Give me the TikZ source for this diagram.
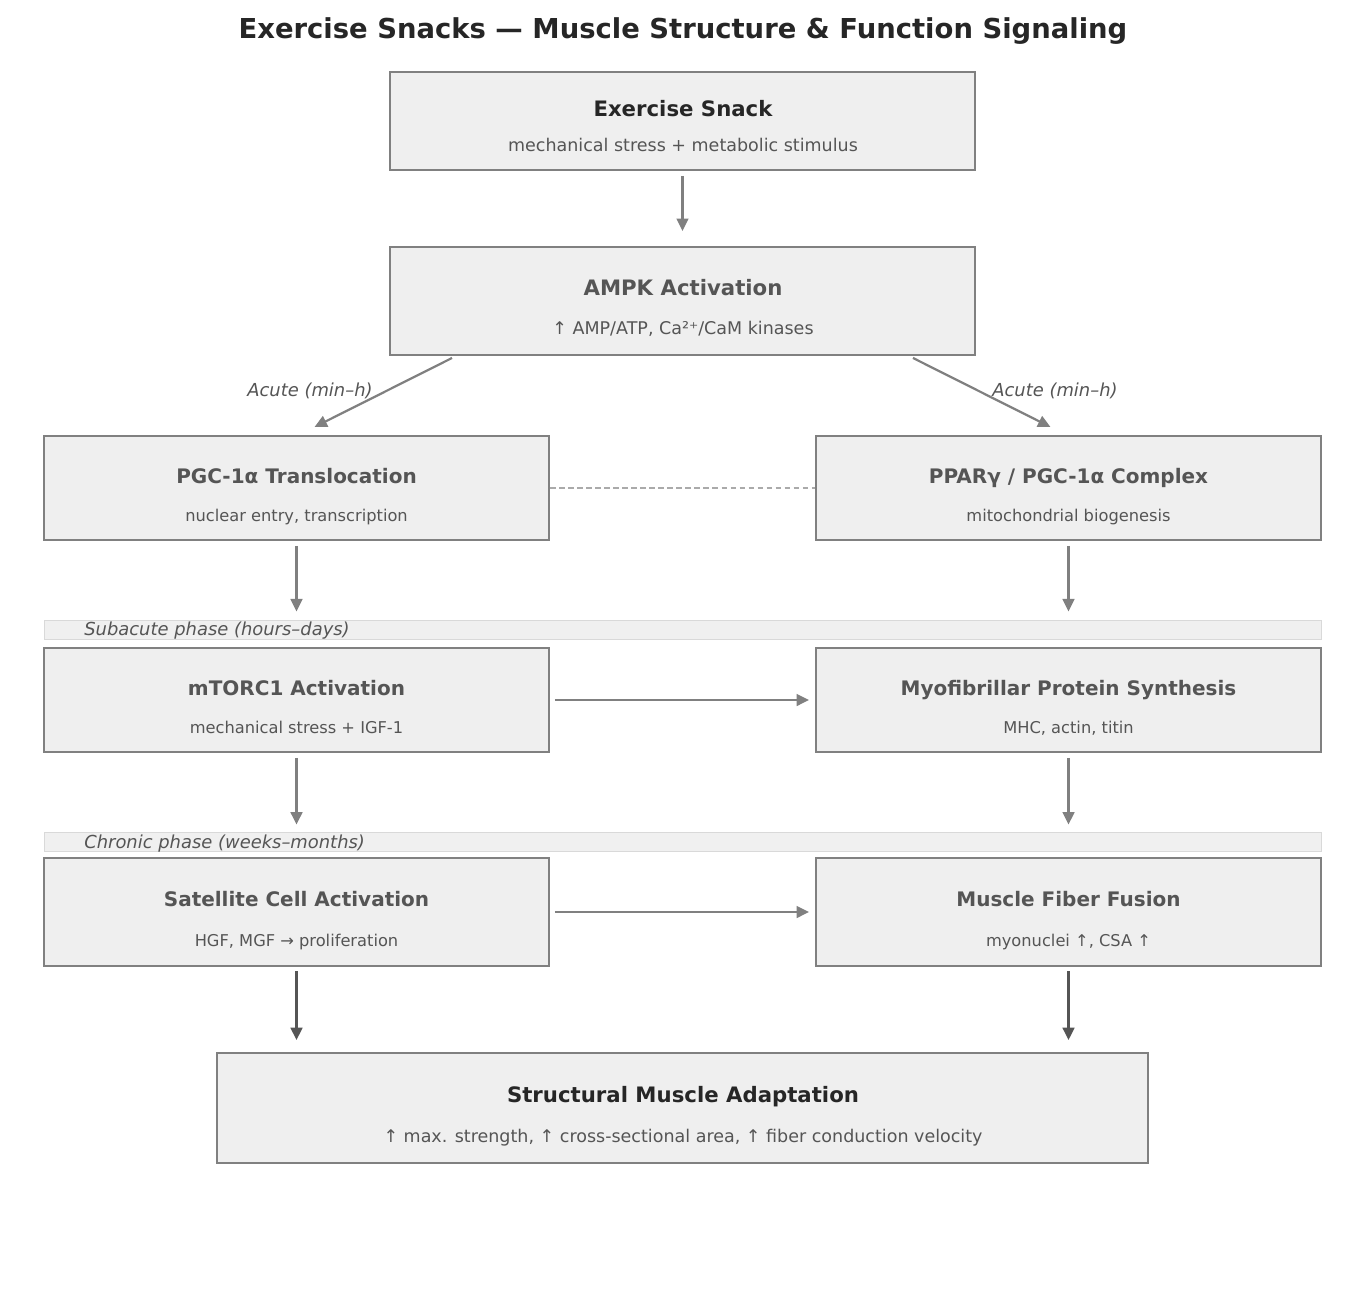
\documentclass[tikz,border=0pt]{standalone}
\usepackage{fontspec}
\setmainfont{DejaVu Sans}
\usetikzlibrary{arrows.meta}

\definecolor{boxfill}{HTML}{EFEFEF}
\definecolor{boxline}{HTML}{808080}
\definecolor{darktext}{HTML}{262626}
\definecolor{midtext}{HTML}{555555}
\definecolor{bandfill}{HTML}{F0F0F0}
\definecolor{bandline}{HTML}{D9D9D9}
\definecolor{dashgray}{HTML}{AAAAAA}
\definecolor{strongline}{HTML}{555555}

\newdimen\pxunit
\pxunit=0.72pt

\tikzset{
  stagebox/.style={draw=boxline,fill=boxfill,line width=1.4pt,inner sep=0},
  phaseband/.style={draw=bandline,fill=bandfill,line width=0.7pt,inner sep=0},
  headtext/.style={text=midtext,font=\bfseries\fontsize{14.4pt}{17pt}\selectfont,inner sep=0,text height=10.7pt,text depth=0pt},
  bighead/.style={text=darktext,font=\bfseries\fontsize{15.3pt}{18pt}\selectfont,inner sep=0,text height=11.3pt,text depth=0pt},
  subtext/.style={text=midtext,font=\fontsize{11.7pt}{14pt}\selectfont,inner sep=0,text height=8.7pt,text depth=0pt},
  bigsub/.style={subtext,font=\fontsize{12.6pt}{15pt}\selectfont,text height=9.3pt},
  phasetext/.style={text=midtext,font=\itshape\fontsize{12.9pt}{15pt}\selectfont,inner sep=0,anchor=west,text height=9.5pt,text depth=0pt},
  flowarrow/.style={draw=boxline,line width=1.6pt,-{Triangle[length=9pt,width=8.5pt]},shorten <=3.6pt},
  strongarrow/.style={flowarrow,draw=strongline},
  linkdash/.style={draw=dashgray,line width=1pt,dash pattern=on 4pt off 2.5pt}
}

\begin{document}
\begin{tikzpicture}[x=0.72pt,y=-0.72pt]
    \pgfmathsetmacro{\topboxw}{585}
    \pgfmathsetmacro{\sideboxw}{505}
    \pgfmathsetmacro{\bandw}{1277}
    \pgfmathsetmacro{\leftx}{296.5}
    \pgfmathsetmacro{\rightx}{1068.5}
    \path[fill=white,use as bounding box] (0,0) rectangle (1366,1312);

    \node[text=darktext,font=\bfseries\fontsize{19.75pt}{24pt}\selectfont] (title) at (683,31) {Exercise Snacks — Muscle Structure \& Function Signaling};

    \node[stagebox,minimum width=\topboxw*\pxunit,minimum height=98*\pxunit] (snack) at (682.5,121) {};
    \node[bighead] (snackhead) at (683,109) {Exercise Snack};
    \node[bigsub] (snacksub) at (683,145) {mechanical stress + metabolic stimulus};

    \node[stagebox,minimum width=\topboxw*\pxunit,minimum height=108*\pxunit] (ampk) at (682.5,301) {};
    \node[bighead,text=midtext] (ampkhead) at (683,288) {AMPK Activation};
    \node[bigsub] (ampksub) at (683,328) {↑ AMP/ATP, Ca²⁺/CaM kinases};

    \node[stagebox,minimum width=\sideboxw*\pxunit,minimum height=104*\pxunit] (pgc) at (\leftx,488) {};
    \node[headtext] (pgchead) at (\leftx,476) {PGC-1α Translocation};
    \node[subtext] (pgcsub) at (\leftx,515) {nuclear entry, transcription};

    \node[stagebox,minimum width=\sideboxw*\pxunit,minimum height=104*\pxunit] (ppar) at (\rightx,488) {};
    \node[headtext] (pparhead) at (\rightx,476) {PPARγ / PGC-1α Complex};
    \node[subtext] (pparsub) at (\rightx,515) {mitochondrial biogenesis};

    \node[phaseband,minimum width=\bandw*\pxunit,minimum height=19*\pxunit] (subacute) at (682.5,629.5) {};
    \node[phasetext] (subacutetext) at (84,629) {Subacute phase (hours–days)};

    \node[stagebox,minimum width=\sideboxw*\pxunit,minimum height=104*\pxunit] (mtorc) at (\leftx,700) {};
    \node[headtext] (mtorchead) at (\leftx,688) {mTORC1 Activation};
    \node[subtext] (mtorcsub) at (\leftx,727) {mechanical stress + IGF-1};

    \node[stagebox,minimum width=\sideboxw*\pxunit,minimum height=104*\pxunit] (myo) at (\rightx,700) {};
    \node[headtext] (myohead) at (\rightx,688) {Myofibrillar Protein Synthesis};
    \node[subtext] (myosub) at (\rightx,727) {MHC, actin, titin};

    \node[phaseband,minimum width=\bandw*\pxunit,minimum height=19*\pxunit] (chronic) at (682.5,841.5) {};
    \node[phasetext] (chronictext) at (84,842) {Chronic phase (weeks–months)};

    \node[stagebox,minimum width=\sideboxw*\pxunit,minimum height=108*\pxunit] (satellite) at (\leftx,912) {};
    \node[headtext] (satellitehead) at (\leftx,899) {Satellite Cell Activation};
    \node[subtext] (satellitesub) at (\leftx,940) {HGF, MGF → proliferation};

    \node[stagebox,minimum width=\sideboxw*\pxunit,minimum height=108*\pxunit] (fusion) at (\rightx,912) {};
    \node[headtext] (fusionhead) at (\rightx,899) {Muscle Fiber Fusion};
    \node[subtext] (fusionsub) at (\rightx,940) {myonuclei ↑, CSA ↑};

    \node[stagebox,minimum width=931*\pxunit,minimum height=110*\pxunit] (adapt) at (682.5,1108) {};
    \node[bighead] (adapthead) at (683,1095) {Structural Muscle Adaptation};
    \node[bigsub] (adaptsub) at (683,1136) {↑ max. strength, ↑ cross-sectional area, ↑ fiber conduction velocity};

    \node[phasetext,anchor=center] (acuteleft) at (310,390) {Acute (min–h)};
    \node[phasetext,anchor=center] (acuteright) at (1055,390) {Acute (min–h)};

    \draw[flowarrow,shorten >=10.8pt] (snack.south) -- (ampk.north);
    \draw[flowarrow,shorten <=0pt] ([shift={(63,2)}]ampk.south west) -- ([shift={(18,-8)}]pgc.north);
    \draw[flowarrow,shorten <=0pt] ([shift={(-63,2)}]ampk.south east) -- ([shift={(-18,-8)}]ppar.north);
    \draw[linkdash] (pgc.east) -- (ppar.west);

    \draw[flowarrow,shorten >=5.8pt] (pgc.south) -- (pgc.south |- subacute.north);
    \draw[flowarrow,shorten >=5.8pt] (ppar.south) -- (ppar.south |- subacute.north);
    \draw[flowarrow,shorten >=4.3pt] (mtorc.east) -- (myo.west);
    \draw[flowarrow,shorten >=5pt] (mtorc.south) -- (mtorc.south |- chronic.north);
    \draw[flowarrow,shorten >=5pt] (myo.south) -- (myo.south |- chronic.north);
    \draw[flowarrow,shorten >=4.3pt] (satellite.east) -- (fusion.west);
    \draw[strongarrow,shorten <=3pt,shorten >=8.6pt] (satellite.south) -- (satellite.south |- adapt.north);
    \draw[strongarrow,shorten <=3pt,shorten >=8.6pt] (fusion.south) -- (fusion.south |- adapt.north);
\end{tikzpicture}
\end{document}
